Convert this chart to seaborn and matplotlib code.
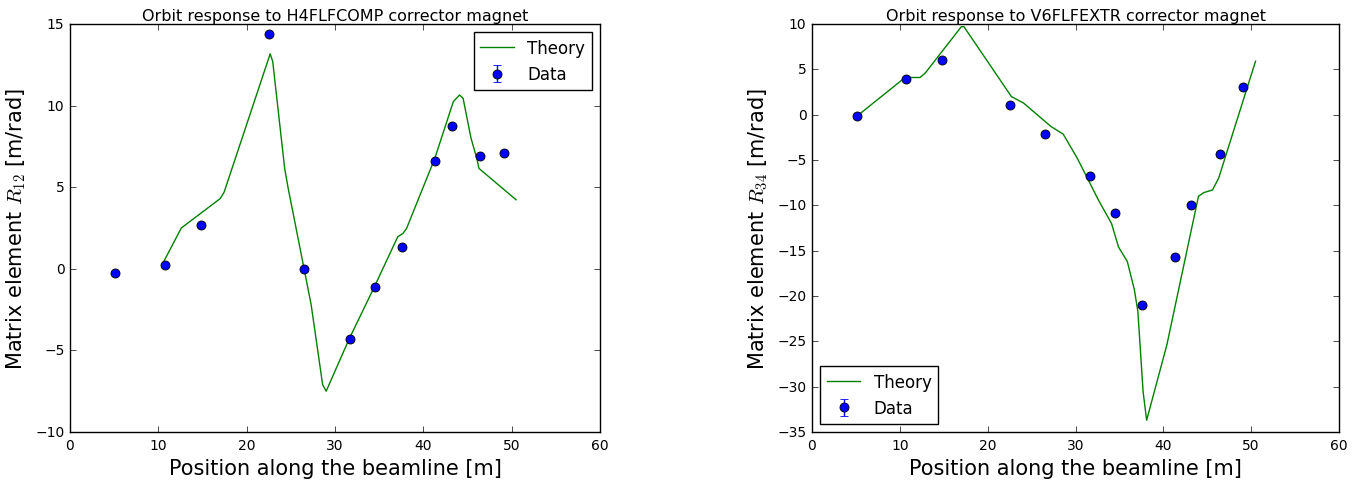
import numpy as np
import pandas as pd
import matplotlib
matplotlib.use("Agg")
import matplotlib.pyplot as plt
import seaborn as sns

# Data positions (m)
data_s = [5.1, 10.7, 14.8, 22.5, 26.5, 31.7, 34.5, 37.6, 41.3, 43.2, 46.4, 49.1]
data_r12 = [-0.25, 0.25, 2.7, 14.4, 0.0, -4.3, -1.1, 1.35, 6.6, 8.75, 6.9, 7.1]
data_r34 = [-0.2, 3.9, 6.0, 1.1, -2.1, -6.8, -10.9, -21.0, -15.7, -10.0, -4.3, 3.1]
data_err12 = [0.05] * 12
data_err34 = [0.1] * 12

theory12_s = [10.6, 12.6, 17.0, 17.45, 22.66, 22.95, 24.3, 24.7, 26.5, 27.3, 28.6, 29.0,
              31.6, 34.46, 37.1, 37.7, 38.1, 41.3, 43.4, 44.1, 44.5, 45.4, 46.05, 46.3, 50.5]
theory12_r = [0.43, 2.5, 4.3, 4.7, 13.17, 12.7, 6.16, 4.93, 0.0, -2.2, -7.1, -7.5,
              -4.3, -1.1, 1.96, 2.17, 2.47, 6.77, 10.25, 10.65, 10.45, 8.0, 6.77, 6.15, 4.23]

theory34_s = [5.2, 10.6, 12.3, 12.9, 17.0, 17.3, 22.7, 24.1, 27.2, 28.6, 30.2, 32.6, 34.1,
              34.9, 35.9, 36.7, 37.1, 37.7, 38.1, 40.4, 44.0, 44.6, 45.6, 46.3, 50.5]
theory34_r = [-0.1, 4.1, 4.1, 4.6, 9.7, 9.7, 2.0, 1.27, -1.3, -2.15, -4.8, -9.4, -12.0,
              -14.6, -16.2, -19.3, -21.7, -30.6, -33.7, -25.4, -9.0, -8.6, -8.3, -7.0, 5.9]

titles = ["Orbit response to H4FLFCOMP corrector magnet",
          "Orbit response to V6FLFEXTR corrector magnet"]
ylabels = [r"Matrix element $R_{12}$ [m/rad]", r"Matrix element $R_{34}$ [m/rad]"]
xlabel = "Position along the beamline [m]"

plt.style.use("classic")
plt.rcParams["font.family"] = ["DejaVu Sans"]
plt.rcParams["mathtext.fontset"] = "cm"

fig = plt.figure(figsize=(13.6, 4.81), dpi=100, facecolor="white")
ax1 = fig.add_axes([70 / 1360, 1 - 433 / 481, 530 / 1360, 408 / 481])
ax2 = fig.add_axes([812 / 1360, 1 - 433 / 481, 527 / 1360, 408 / 481])

panels = [
    (ax1, theory12_s, theory12_r, data_r12, data_err12, (-10, 15), "upper right"),
    (ax2, theory34_s, theory34_r, data_r34, data_err34, (-35, 10), "lower left"),
]

for ax, ts, tr, dr, de, ylim, loc in panels:
    ax.set_facecolor("white")
    th = pd.DataFrame({"s": ts, "r": tr})
    sns.lineplot(data=th, x="s", y="r", ax=ax, color="green", lw=1.0,
                 label="Theory", estimator=None, sort=False)
    ax.errorbar(data_s, dr, yerr=de, fmt="o", color="blue", mec="black",
                mew=0.6, ms=6.5, ecolor="blue", capsize=3, label="Data", zorder=3)
    ax.set_xlim(0, 60)
    ax.set_ylim(*ylim)
    ax.set_xticks(np.arange(0, 61, 10))
    ax.set_yticks(np.arange(ylim[0], ylim[1] + 1, 5))
    ax.tick_params(labelsize=10)
    ax.set_xlabel(xlabel, fontsize=15)
    leg = ax.legend(loc=loc, fontsize=12, numpoints=1, frameon=True, fancybox=False)
    leg.get_frame().set_edgecolor("black")

for ax, t, yl in zip([ax1, ax2], titles, ylabels):
    ax.set_title(t, fontsize=11.5, pad=3)
    ax.set_ylabel(yl, fontsize=15)

fig.savefig("out.png", dpi=100, facecolor="white")
